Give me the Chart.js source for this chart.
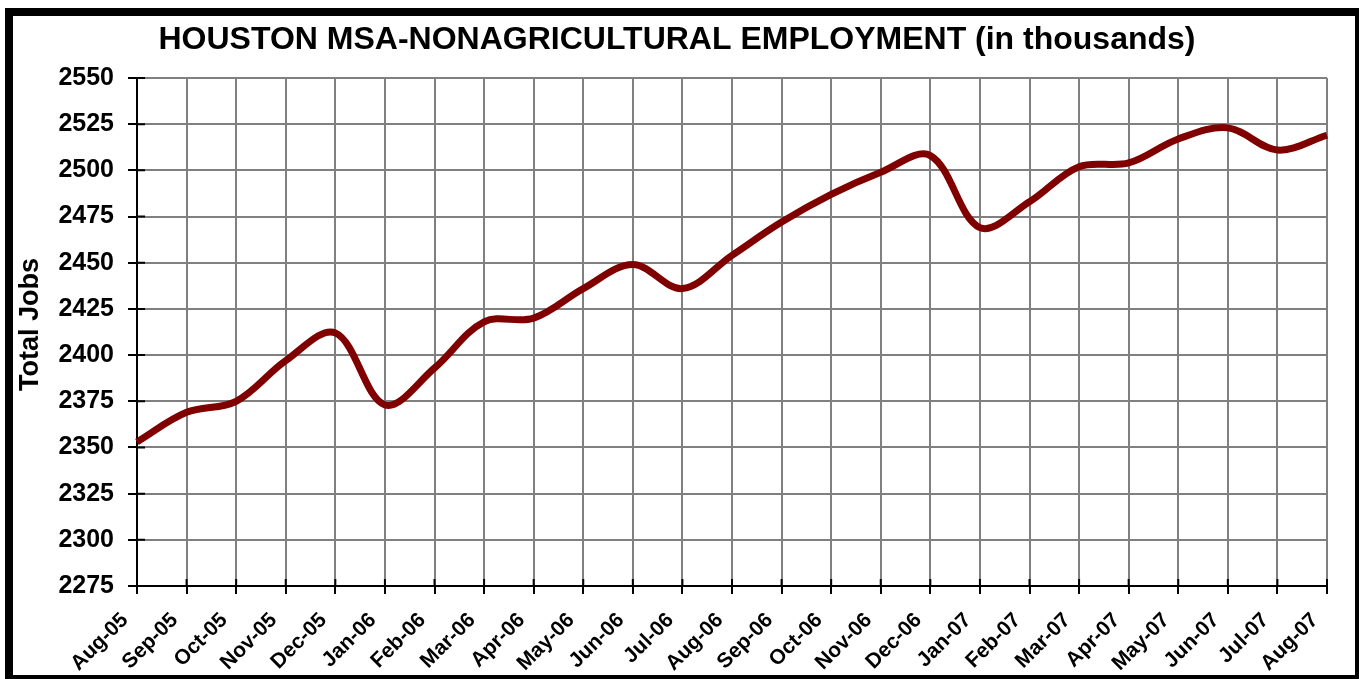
<!DOCTYPE html>
<html>
<head>
<meta charset="utf-8">
<script src="https://cdn.jsdelivr.net/npm/chart.js@4"></script>
<style>
  body { margin: 0; background: #fff; }
  #wrap { position: absolute; left: 0; top: 0; width: 1359px; height: 679px; }
  #frame {
    position: absolute; left: 5px; top: 8px; width: 1354px; height: 671px;
    box-sizing: border-box; pointer-events: none;
    border-left: 8px solid #000; border-top: 8px solid #000;
    border-right: 4px solid #000; border-bottom: 4px solid #000;
  }
</style>
</head>
<body>
<div id="wrap">
  <canvas id="chart" width="1359" height="679"></canvas>
  <div id="frame"></div>
</div>
<script>
const months = ['Aug-05', 'Sep-05', 'Oct-05', 'Nov-05', 'Dec-05', 'Jan-06', 'Feb-06', 'Mar-06', 'Apr-06',
  'May-06', 'Jun-06', 'Jul-06', 'Aug-06', 'Sep-06', 'Oct-06', 'Nov-06', 'Dec-06', 'Jan-07', 'Feb-07',
  'Mar-07', 'Apr-07', 'May-07', 'Jun-07', 'Jul-07', 'Aug-07'];
const totalJobs = [2353, 2369, 2375, 2397, 2412, 2373, 2393, 2418, 2420, 2436, 2449, 2436, 2454,
  2472, 2487, 2499, 2508, 2469, 2483, 2502, 2504, 2517, 2523, 2511, 2519];
const yMin = 2275;
const yMax = 2550;
const yStep = 25;

const font = 'Liberation Sans, Arial, sans-serif';

// short black tick marks that cross into the plot area
const innerTicks = {
  id: 'innerTicks',
  beforeDatasetsDraw(chart) {
    const ctx = chart.ctx;
    const x = chart.scales.x, y = chart.scales.y;
    ctx.save();
    ctx.strokeStyle = '#000';
    ctx.lineWidth = 2;
    ctx.beginPath();
    y.ticks.forEach(t => {
      const py = y.getPixelForValue(t.value);
      ctx.moveTo(x.left, py);
      ctx.lineTo(x.left + 8, py);
    });
    months.forEach((m, i) => {
      const px = x.getPixelForValue(i);
      ctx.moveTo(px, y.bottom);
      ctx.lineTo(px, y.bottom - 7);
    });
    ctx.stroke();
    ctx.restore();
  }
};

new Chart(document.getElementById('chart'), {
  type: 'line',
  data: {
    labels: months,
    datasets: [{
      label: 'Total Jobs',
      data: totalJobs,
      borderColor: '#800000',
      borderWidth: 7,
      pointRadius: 0,
      tension: 0.35,
      fill: false
    }]
  },
  options: {
    responsive: false,
    animation: false,
    layout: { padding: { left: 27, right: 32, top: 0, bottom: 0 } },
    plugins: {
      legend: { display: false },
      tooltip: { enabled: false },
      title: {
        display: true,
        text: 'HOUSTON MSA-NONAGRICULTURAL EMPLOYMENT (in thousands)',
        color: '#000',
        font: { family: font, size: 32, weight: 'bold', lineHeight: 1.2 },
        padding: { top: 21, bottom: 18.6 }
      }
    },
    scales: {
      x: {
        offset: false,
        grid: { color: '#808080', lineWidth: 2, tickColor: '#000', tickLength: 8, offset: false },
        border: { color: '#000', width: 2 },
        ticks: {
          color: '#000',
          font: { family: font, size: 21, weight: 'bold' },
          minRotation: 45, maxRotation: 45,
          autoSkip: false,
          labelOffset: -12,
          padding: 14
        },
        afterFit(scale) { scale.height = 93; }
      },
      y: {
        min: yMin,
        max: yMax,
        grid: { color: '#808080', lineWidth: 2, tickColor: '#000', tickLength: 9 },
        border: { color: '#000', width: 2 },
        ticks: {
          stepSize: yStep,
          color: '#000',
          font: { family: font, size: 25, weight: 'bold' },
          padding: 14,
          callback: v => String(v)
        },
        title: {
          display: true,
          text: '  Total Jobs',
          color: '#000',
          font: { family: font, size: 27, weight: 'bold', lineHeight: 1.2 },
          padding: { top: -13, bottom: 0 }
        },
        afterFit(scale) { scale.width = 110; }
      }
    }
  },
  plugins: [innerTicks]
});
</script>
</body>
</html>
